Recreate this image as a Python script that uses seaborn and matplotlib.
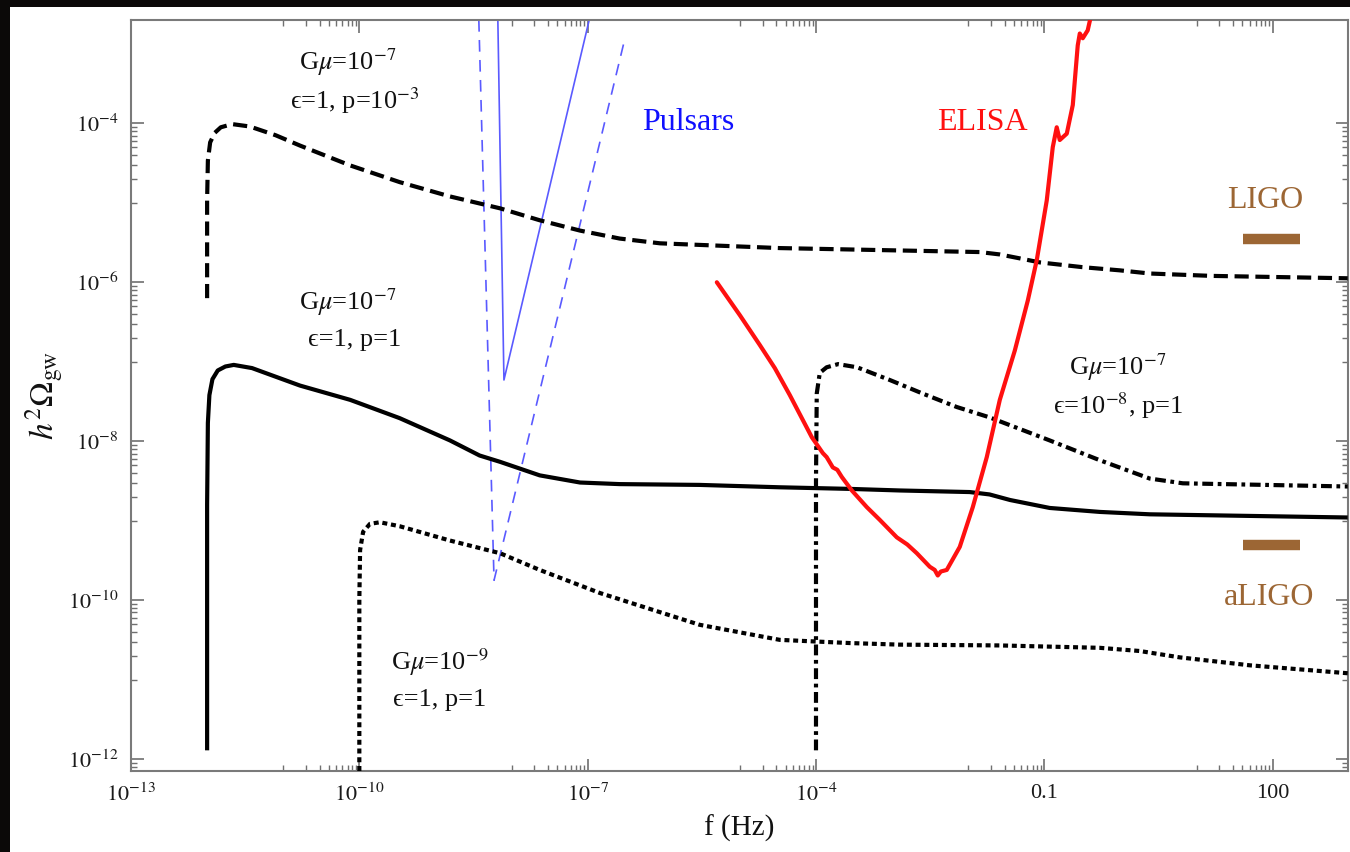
import numpy as np
import pandas as pd
import matplotlib
matplotlib.use("Agg")
import matplotlib.pyplot as plt
from matplotlib.patches import Rectangle
from matplotlib.ticker import FixedLocator, NullFormatter
import seaborn as sns

# ---------------- data (log10 values) ----------------
# G mu = 1e-7, eps = 1, p = 1e-3  (dashed)
dash_logf = [-12.0, -12.0, -11.99, -11.96, -11.90, -11.82, -11.67, -11.44, -11.10, -10.78, -10.12, -9.47,
             -8.81, -8.15, -7.63, -7.10, -6.58, -6.05, -5.53, -4.475, -2.90, -1.85,
             -1.585, -1.32, -1.06, -0.50, -0.01, 0.385, 1.2, 2.986]
dash_logo = [-6.20, -4.97, -4.47, -4.24, -4.12, -4.05, -4.01, -4.04, -4.15, -4.28, -4.53, -4.74,
             -4.92, -5.07, -5.22, -5.35, -5.45, -5.51, -5.53, -5.57, -5.60, -5.62,
             -5.65, -5.70, -5.75, -5.81, -5.85, -5.89, -5.92, -5.95]

# G mu = 1e-7, eps = 1, p = 1  (solid)
solid_logf = [-12.0, -12.0, -11.99, -11.97, -11.93, -11.86, -11.76, -11.65, -11.41, -10.78, -10.12,
              -9.47, -8.81, -8.42, -8.15, -7.63, -7.10, -6.58, -5.53, -4.475, -3.56,
              -2.90, -1.98, -1.72, -1.45, -0.93, -0.27, 0.385, 2.986]
solid_logo = [-11.89, -8.80, -7.77, -7.42, -7.22, -7.11, -7.06, -7.04, -7.08, -7.30, -7.48,
              -7.71, -7.99, -8.18, -8.26, -8.43, -8.52, -8.54, -8.55, -8.58, -8.60,
              -8.62, -8.64, -8.67, -8.74, -8.84, -8.89, -8.92, -8.96]

# G mu = 1e-9, eps = 1, p = 1  (dotted)
dot_logf = [-10.0, -10.0, -9.99, -9.95, -9.86, -9.73, -9.47, -8.81, -8.15, -7.63,
            -6.84, -5.53, -4.475, -3.556, -2.899, -1.585, -0.272, 0.253, 0.779, 1.699, 2.986]
dot_logo = [-12.15, -10.00, -9.37, -9.14, -9.04, -9.02, -9.07, -9.25, -9.41, -9.62,
            -9.91, -10.31, -10.50, -10.54, -10.56, -10.57, -10.60, -10.64, -10.72, -10.82, -10.92]

# G mu = 1e-7, eps = 1e-8, p = 1  (dash-dot)
dd_logf = [-4.0, -4.0, -3.99, -3.95, -3.86, -3.71, -3.46, -3.03, -2.60, -2.15,
           -1.72, -0.93, -0.27, 0.385, 0.82, 2.986]
dd_logo = [-11.89, -8.50, -7.40, -7.14, -7.07, -7.03, -7.07, -7.23, -7.40, -7.57,
           -7.70, -7.99, -8.24, -8.47, -8.53, -8.57]

# ELISA sensitivity (red)
elisa_logf = [-5.303, -5.000, -4.738, -4.541, -4.344, -4.055, -3.910, -3.860, -3.779, -3.720,
              -3.661, -3.529, -3.332, -3.162, -2.938, -2.800, -2.675, -2.505, -2.440, -2.400,
              -2.360, -2.282, -2.111, -1.940, -1.756, -1.585, -1.388, -1.217, -1.099, -0.968,
              -0.889, -0.837, -0.797, -0.705, -0.626, -0.561, -0.534, -0.495, -0.430, -0.390]
elisa_logo = [-6.00, -6.415, -6.79, -7.08, -7.42, -7.95, -8.15, -8.20, -8.33, -8.36,
              -8.45, -8.62, -8.83, -8.99, -9.21, -9.30, -9.41, -9.58, -9.62, -9.69,
              -9.64, -9.62, -9.33, -8.83, -8.20, -7.48, -6.86, -6.23, -5.72, -4.97,
              -4.30, -4.05, -4.21, -4.13, -3.77, -3.02, -2.87, -2.93, -2.83, -2.66]

# Pulsar timing (blue)
pulsar_solid_logf = [-8.18, -8.10, -6.98]
pulsar_solid_logo = [-2.70, -7.23, -2.70]
pulsar_dash_logf = [-8.43, -8.23, -6.51]
pulsar_dash_logo = [-2.70, -9.75, -2.93]

# LIGO / aLIGO bars
ligo_logf = [1.607, 2.356]
ligo_logo = [-5.45, -5.45]
aligo_logf = [1.607, 2.356]
aligo_logo = [-9.30, -9.30]

# ticks
xtick_vals = [1e-13, 1e-10, 1e-7, 1e-4, 0.1, 100]
xtick_labels = [r"$10^{-13}$", r"$10^{-10}$", r"$10^{-7}$", r"$10^{-4}$", "0.1", "100"]
ytick_vals = [1e-12, 1e-10, 1e-8, 1e-6, 1e-4]
ytick_labels = [r"$10^{-12}$", r"$10^{-10}$", r"$10^{-8}$", r"$10^{-6}$", r"$10^{-4}$"]

# ---------------- style ----------------
sns.set_style("ticks")
plt.rcParams["font.family"] = ["Liberation Serif", "DejaVu Serif"]
plt.rcParams["mathtext.fontset"] = "stix"
plt.rcParams["lines.scale_dashes"] = True

W, H = 1350, 852
fig = plt.figure(figsize=(W / 100, H / 100), dpi=100, facecolor="white")
ax = fig.add_axes([131 / W, 1 - 771 / H, (1348 - 131) / W, (771 - 20) / H])
ax.set_facecolor("white")

# dark frame strips of the screenshot
fig.patches.append(Rectangle((0, 0), 10 / W, 1, transform=fig.transFigure,
                             facecolor="#0b0908", edgecolor="none", zorder=-1))
fig.patches.append(Rectangle((0, 1 - 7 / H), 1, 7 / H, transform=fig.transFigure,
                             facecolor="#0b0908", edgecolor="none", zorder=-1))


def draw(logf, logo, color, lw, ls, z=3, cap="butt"):
    df = pd.DataFrame({"f": np.power(10.0, np.array(logf)),
                       "omega": np.power(10.0, np.array(logo))})
    sns.lineplot(data=df, x="f", y="omega", ax=ax, sort=False, estimator=None,
                 color=color, lw=lw, zorder=z)
    ln = ax.lines[-1]
    ln.set_linestyle(ls)
    ln.set_solid_capstyle(cap)
    ln.set_dash_capstyle("butt")
    ln.set_solid_joinstyle("round")
    return ln


blue = "#5a5aff"
draw(pulsar_solid_logf, pulsar_solid_logo, blue, 1.2, "-", z=2)
draw(pulsar_dash_logf, pulsar_dash_logo, blue, 1.2, (0, (7, 5)), z=2)

draw(dash_logf, dash_logo, "black", 3.0, (0, (3.4, 1.6)))
draw(solid_logf, solid_logo, "black", 3.0, "-")
draw(dot_logf, dot_logo, "black", 3.0, (0, (1.2, 0.9)))
draw(dd_logf, dd_logo, "black", 3.0, (0, (2.6, 1.1, 0.9, 1.1)))

draw(elisa_logf, elisa_logo, "#ff1010", 3.0, "-", z=4, cap="round")

brown = "#9c6634"
draw(ligo_logf, ligo_logo, brown, 7.5, "-")
draw(aligo_logf, aligo_logo, brown, 7.5, "-")

ax.set_xscale("log")
ax.set_yscale("log")
ax.set_xlim(1e-13, 10 ** 2.99)
ax.set_ylim(10 ** -12.15, 10 ** -2.70)

# ticks
ax.xaxis.set_major_locator(FixedLocator(xtick_vals))
ax.set_xticklabels(xtick_labels)
ax.yaxis.set_major_locator(FixedLocator(ytick_vals))
ax.set_yticklabels(ytick_labels)
xminor = [k * m / 10 for m in xtick_vals for k in range(1, 10)]
yminor = [k * m / 10 for m in ytick_vals for k in range(1, 10)]
ax.xaxis.set_minor_locator(FixedLocator(xminor))
ax.yaxis.set_minor_locator(FixedLocator(yminor))
ax.xaxis.set_minor_formatter(NullFormatter())
ax.yaxis.set_minor_formatter(NullFormatter())
ax.tick_params(which="both", direction="in", top=True, right=True,
               color="#707070", labelsize=16, labelcolor="#1a1a1a")
ax.tick_params(which="major", length=9, width=1.2, pad=9)
ax.tick_params(which="minor", length=4, width=1.0)
for s in ax.spines.values():
    s.set_color("#7a7a7a")
    s.set_linewidth(1.5)

ax.set_xlabel("f (Hz)", fontsize=21, color="#111111", labelpad=6)
ax.set_ylabel(r"$h^2\Omega_{\rm gw}$", fontsize=24, color="#111111",
              va="center", ha="center")
ax.yaxis.set_label_coords((45 - 131) / 1217, 0.5)


def T(lx, ly, s, **kw):
    ax.text(10 ** lx, 10 ** ly, s, ha="center", va="center", **kw)


eps = "\u03f5"
tk = dict(fontsize=19, color="#111111")
T(-10.15, -3.23, r"G$\mu$=10$^{-7}$", **tk)
T(-10.06, -3.71, eps + r"=1, p=10$^{-3}$", **tk)
T(-10.15, -6.25, r"G$\mu$=10$^{-7}$", **tk)
T(-10.06, -6.73, eps + "=1, p=1", **tk)
T(-8.94, -10.78, r"G$\mu$=10$^{-9}$", **tk)
T(-8.94, -11.26, eps + "=1, p=1", **tk)
T(-0.035, -7.07, r"G$\mu$=10$^{-7}$", **tk)
T(-0.035, -7.55, eps + r"=10$^{-8}$, p=1", **tk)

T(-5.68, -3.99, "Pulsars", fontsize=23, color="#1010ff")
T(-1.82, -3.99, "ELISA", fontsize=23, color="#ff1010")
T(1.90, -4.97, "LIGO", fontsize=23, color=brown)
T(1.96, -9.97, "aLIGO", fontsize=23, color=brown)

fig.savefig("out.png", dpi=100, facecolor="white")
